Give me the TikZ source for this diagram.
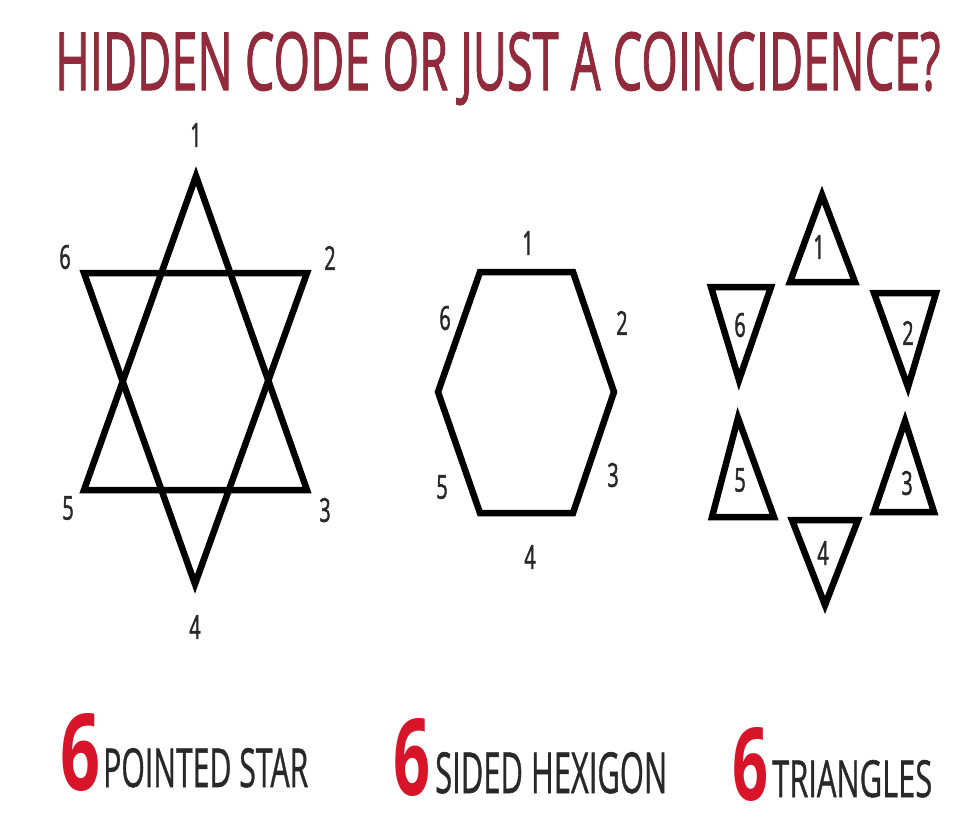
\documentclass[tikz,border=0pt]{standalone}
\usepackage{fontspec}
\usepackage{graphicx}
\setmainfont{Open Sans}
\newfontfamily\titlefont[FakeBold=1.6]{Open Sans}
\newfontfamily\capfont[FakeBold=1]{Open Sans}
\newfontfamily\numfont[FakeStretch=0.6,FakeBold=1.4]{Open Sans}
\definecolor{titlered}{RGB}{145,42,58}
\definecolor{sixred}{RGB}{215,20,40}
\definecolor{captext}{RGB}{40,40,40}

\begin{document}
\begin{tikzpicture}[x=1pt,y=-1pt,
    fig/.style={line width=6.5pt,line join=miter},
    num/.style={font=\numfont\fontsize{33}{33}\selectfont,text=captext,inner sep=0pt},
    txt/.style={anchor=base west,inner sep=0pt}]
  \useasboundingbox[fill=white] (0,0) rectangle (963,827);
  \node[txt,text=titlered] (title) at (55,90)
    {\resizebox{885pt}{58pt}{\titlefont HIDDEN CODE OR JUST A COINCIDENCE?}};

  % star
  \draw[fig] (196,176) -- (307,490) -- (84,490) -- cycle;
  \draw[fig] (84,273) -- (307,273) -- (195,584) -- cycle;
  \node[num] (s1) at (196,135) {1};
  \node[num] (s2) at (330,258) {2};
  \node[num] (s3) at (325,510) {3};
  \node[num] (s4) at (195,627) {4};
  \node[num] (s5) at (68,508) {5};
  \node[num] (s6) at (65,257) {6};

  % hexagon
  \draw[fig] (480,272) -- (573,272) -- (614,392) -- (573,513) -- (480,513) -- (438,392) -- cycle;
  \node[num] (h1) at (528,243) {1};
  \node[num] (h2) at (622,323) {2};
  \node[num] (h3) at (613,475) {3};
  \node[num] (h4) at (530,557) {4};
  \node[num] (h5) at (442,487) {5};
  \node[num] (h6) at (445,318) {6};

  % triangles
  \draw[fig] (822,195) -- (855,282) -- (790,282) -- cycle;
  \draw[fig] (874,293) -- (936,293) -- (908,387) -- cycle;
  \draw[fig] (905,421) -- (934,512) -- (874,512) -- cycle;
  \draw[fig] (792,520) -- (858,520) -- (825,605) -- cycle;
  \draw[fig] (738,418) -- (774,517) -- (712,517) -- cycle;
  \draw[fig] (711,287) -- (771,287) -- (739,380) -- cycle;
  \node[num] (t1) at (819,247) {1};
  \node[num] (t2) at (908,333) {2};
  \node[num] (t3) at (907,483) {3};
  \node[num] (t4) at (823,553) {4};
  \node[num] (t5) at (740,480) {5};
  \node[num] (t6) at (740,325) {6};

  % captions
  \node[txt,text=sixred] (six1) at (60,790) {\resizebox{40pt}{77pt}{\bfseries 6}};
  \node[txt,text=captext] (cap1) at (103,787) {\resizebox{205pt}{39pt}{\capfont POINTED STAR}};
  \node[txt,text=sixred] (six2) at (393,795) {\resizebox{37pt}{77pt}{\bfseries 6}};
  \node[txt,text=captext] (cap2) at (435,793) {\resizebox{232pt}{41pt}{\capfont SIDED HEXIGON}};
  \node[txt,text=sixred] (six3) at (732,800) {\resizebox{36pt}{73pt}{\bfseries 6}};
  \node[txt,text=captext] (cap3) at (772,797) {\resizebox{160pt}{37pt}{\capfont TRIANGLES}};
\end{tikzpicture}
\end{document}
